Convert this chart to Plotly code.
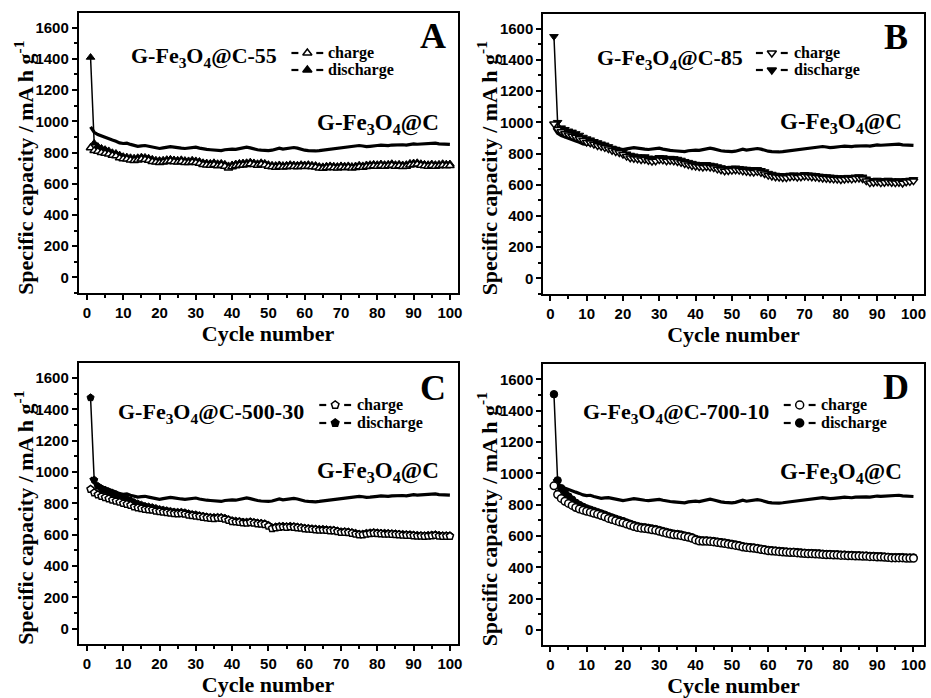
import plotly.graph_objects as go

cycles = list(range(1, 101))

ref_gfe3o4c = [965, 930, 915, 905, 898, 890, 880, 872, 862, 858,
               860, 852, 845, 840, 843, 845, 840, 835, 828, 826,
               830, 834, 838, 835, 830, 828, 826, 830, 835, 834,
               828, 822, 820, 818, 815, 810, 812, 818, 822, 822,
               820, 825, 830, 835, 830, 822, 818, 815, 812, 812,
               815, 820, 828, 822, 825, 830, 832, 828, 820, 815,
               812, 810, 810, 812, 815, 818, 822, 826, 825, 828,
               832, 835, 838, 840, 845, 842, 838, 840, 845, 845,
               848, 846, 844, 848, 850, 852, 850, 848, 852, 855,
               853, 855, 857, 858, 858, 860, 856, 853, 852, 852]

a_charge = [830, 812, 808, 800, 795, 790, 782, 778, 765, 760,
            758, 752, 748, 752, 758, 755, 750, 742, 738, 735,
            738, 742, 745, 740, 738, 742, 736, 735, 738, 735,
            730, 722, 720, 718, 722, 715, 718, 712, 700, 708,
            715, 718, 720, 722, 728, 722, 718, 724, 720, 712,
            708, 705, 710, 706, 708, 712, 710, 708, 712, 710,
            712, 708, 706, 700, 698, 702, 705, 702, 700, 705,
            702, 705, 700, 703, 708, 705, 710, 712, 715, 712,
            716, 712, 715, 718, 712, 715, 710, 712, 720, 722,
            725, 718, 715, 712, 716, 712, 714, 718, 715, 716]
a_discharge = [1410, 860, 840, 828, 820, 812, 800, 795, 785, 775,
               772, 768, 765, 768, 772, 770, 765, 758, 752, 750,
               752, 756, 758, 754, 752, 755, 750, 748, 752, 748,
               744, 736, 734, 732, 736, 730, 732, 726, 716, 722,
               728, 732, 734, 736, 740, 735, 730, 736, 732, 724,
               720, 718, 722, 718, 720, 724, 722, 720, 724, 722,
               724, 720, 718, 712, 710, 714, 716, 714, 712, 716,
               714, 716, 712, 715, 720, 716, 722, 724, 726, 724,
               728, 724, 726, 730, 724, 726, 722, 724, 732, 734,
               736, 730, 726, 724, 728, 724, 726, 730, 727, 728]

b_charge = [990, 955, 940, 928, 920, 912, 905, 895, 885, 872,
            868, 860, 850, 845, 838, 830, 820, 812, 805, 795,
            782, 772, 768, 765, 760, 762, 755, 750, 752, 760,
            758, 752, 755, 752, 748, 742, 735, 728, 722, 718,
            715, 712, 715, 712, 708, 700, 695, 688, 690, 692,
            695, 692, 688, 685, 682, 680, 684, 678, 670, 660,
            655, 650, 648, 645, 645, 650, 652, 648, 650, 655,
            652, 650, 648, 645, 642, 640, 638, 636, 635, 632,
            635, 638, 636, 640, 642, 638, 625, 612, 615, 618,
            612, 615, 618, 614, 612, 615, 610, 618, 620, 625]
b_discharge = [1550, 1000, 965, 955, 945, 938, 928, 918, 905, 895,
               888, 878, 870, 862, 855, 845, 835, 828, 818, 810,
               798, 790, 785, 780, 778, 780, 772, 768, 770, 775,
               774, 768, 770, 768, 764, 758, 750, 744, 738, 732,
               730, 728, 730, 726, 722, 716, 710, 704, 705, 706,
               708, 705, 702, 700, 698, 696, 698, 692, 684, 674,
               668, 662, 660, 658, 658, 662, 664, 660, 662, 666,
               664, 662, 660, 656, 654, 652, 650, 648, 646, 644,
               646, 648, 646, 650, 652, 650, 638, 626, 628, 630,
               625, 628, 630, 626, 624, 627, 622, 628, 630, 634]

c_charge = [890, 868, 855, 845, 838, 830, 822, 815, 808, 800,
            795, 788, 778, 772, 768, 762, 760, 758, 752, 748,
            745, 742, 738, 735, 734, 735, 732, 726, 722, 720,
            716, 712, 708, 705, 704, 706, 705, 700, 692, 685,
            682, 680, 676, 675, 678, 674, 670, 668, 665, 655,
            640, 645, 648, 650, 648, 650, 648, 645, 642, 638,
            636, 634, 632, 630, 630, 628, 626, 625, 620, 615,
            616, 614, 610, 605, 600, 600, 605, 608, 610, 608,
            606, 605, 604, 603, 602, 600, 598, 597, 596, 594,
            592, 591, 590, 592, 594, 596, 592, 590, 590, 590]
c_discharge = [1475, 950, 910, 895, 885, 875, 866, 856, 846, 836,
               828, 818, 806, 798, 790, 782, 778, 774, 768, 762,
               758, 754, 750, 746, 744, 744, 741, 735, 730, 728,
               723, 719, 715, 712, 711, 712, 711, 706, 698, 691,
               688, 686, 682, 681, 684, 680, 676, 674, 671, 661,
               646, 651, 654, 655, 653, 655, 653, 650, 647, 643,
               641, 639, 637, 635, 635, 633, 631, 630, 625, 620,
               621, 619, 615, 610, 605, 605, 610, 613, 615, 613,
               611, 610, 609, 608, 607, 605, 603, 602, 601, 599,
               597, 596, 595, 597, 599, 601, 597, 595, 595, 595]

d_charge = [920, 865, 840, 822, 808, 795, 782, 772, 765, 758,
            752, 745, 738, 730, 722, 712, 705, 698, 690, 684,
            676, 668, 660, 654, 650, 648, 644, 640, 636, 630,
            624, 618, 612, 608, 606, 602, 596, 592, 585, 575,
            568, 566, 566, 564, 562, 558, 555, 552, 548, 544,
            540, 536, 530, 526, 524, 522, 518, 514, 510, 506,
            504, 502, 500, 498, 496, 494, 494, 492, 490, 488,
            486, 486, 485, 484, 482, 480, 480, 478, 478, 476,
            476, 474, 474, 472, 472, 470, 470, 468, 468, 466,
            466, 464, 462, 460, 460, 460, 460, 458, 458, 458]
d_discharge = [1505, 955, 905, 875, 852, 832, 812, 798, 786, 776,
               768, 760, 752, 744, 736, 726, 718, 710, 702, 695,
               686, 678, 670, 663, 658, 656, 652, 648, 644, 638,
               632, 626, 620, 615, 613, 609, 603, 599, 592, 582,
               575, 572, 572, 570, 568, 564, 561, 558, 554, 550,
               546, 541, 535, 531, 529, 527, 523, 519, 515, 511,
               509, 507, 505, 503, 501, 499, 499, 497, 495, 493,
               491, 491, 490, 489, 487, 485, 485, 483, 483, 481,
               481, 479, 479, 477, 477, 475, 475, 473, 473, 471,
               471, 469, 467, 465, 465, 465, 465, 463, 463, 463]

panel_letters = ["A", "B", "C", "D"]
sample_names = ["G-Fe<sub>3</sub>O<sub>4</sub>@C-55", "G-Fe<sub>3</sub>O<sub>4</sub>@C-85",
                "G-Fe<sub>3</sub>O<sub>4</sub>@C-500-30", "G-Fe<sub>3</sub>O<sub>4</sub>@C-700-10"]
ref_name = "G-Fe<sub>3</sub>O<sub>4</sub>@C"
series_names = ["charge", "discharge"]
y_title = "Specific capacity / mA h g<sup>-1</sup>"
x_title = "Cycle number"
symbols = ["triangle-up", "triangle-down", "pentagon", "circle"]
charges = [a_charge, b_charge, c_charge, d_charge]
discharges = [a_discharge, b_discharge, c_discharge, d_discharge]
x_ticks = list(range(0, 101, 10))
y_ticks = list(range(0, 1601, 200))

W, H = 931, 698
SERIF = "Liberation Serif"
SANS = "Liberation Sans"

# panel pixel boxes: (left, right, top, bottom) and axis ranges
boxes = [(79, 460, 13, 293), (546, 929, 14, 294), (79, 460, 363, 644), (546, 929, 364, 645)]
x_ranges = [[-2.3, 102.1], [-2.0, 102.9], [-2.3, 102.1], [-2.0, 102.9]]
y_ranges = [[-100, 1694], [-100, 1694], [-98, 1696], [-96, 1698]]
# legend: (sample centre x, row1 y, row2 y, text x)
legend_pos = [(309, 53, 70, 328), (776, 53, 70, 796), (337, 405, 423, 357), (804, 405, 423, 823)]
sample_pos = [(130, 57), (598, 59), (117, 413), (584, 413)]
ref_pos = [(443, 124), (909, 123), (443, 472), (909, 473)]
letter_pos = [(435, 36), (901, 37), (435, 388), (901, 387)]
ytitle_pos = [(24, 168), (490, 168), (24, 518), (490, 519)]

fig = go.Figure()
annotations = []
layout = {}

for i in range(4):
    ax = "" if i == 0 else str(i + 1)
    xa, ya = "x" + ax, "y" + ax
    fig.add_trace(go.Scatter(x=cycles, y=ref_gfe3o4c, mode="lines", xaxis=xa, yaxis=ya,
                             line=dict(color="black", width=3.2), showlegend=False))
    fig.add_trace(go.Scatter(x=cycles, y=discharges[i], mode="lines+markers", name="discharge",
                             xaxis=xa, yaxis=ya, showlegend=False,
                             line=dict(color="black", width=1.5),
                             marker=dict(symbol=symbols[i], size=7.5, color="black",
                                         line=dict(color="black", width=1))))
    fig.add_trace(go.Scatter(x=cycles, y=charges[i], mode="lines+markers", name="charge",
                             xaxis=xa, yaxis=ya, showlegend=False,
                             line=dict(color="black", width=1.5),
                             marker=dict(symbol=symbols[i], size=7.5, color="white",
                                         line=dict(color="black", width=1.5))))
    l, r, t, b = boxes[i]
    common = dict(showline=True, linecolor="black", linewidth=1.5, mirror=True,
                  ticks="outside", ticklen=5, tickwidth=1.5, tickcolor="black",
                  showgrid=False, zeroline=False,
                  tickfont=dict(family=SANS, size=15, color="black", weight="bold"))
    layout["xaxis" + ax] = dict(common, domain=[l / W, r / W], anchor=ya, range=x_ranges[i],
                                tickvals=x_ticks,
                                minor=dict(ticks="outside", ticklen=3, tickwidth=1.5, tickcolor="black", dtick=5, tick0=0),
                                title=dict(text=x_title, standoff=4,
                                           font=dict(family=SERIF, size=22, color="black", weight="bold")))
    layout["yaxis" + ax] = dict(common, domain=[1 - b / H, 1 - t / H], anchor=xa, range=y_ranges[i],
                                tickvals=y_ticks,
                                minor=dict(ticks="outside", ticklen=3, tickwidth=1.5, tickcolor="black", dtick=100, tick0=0))
    tx_, ty_ = ytitle_pos[i]
    annotations.append(dict(text=y_title, x=tx_ / W, y=1 - ty_ / H, xref="paper", yref="paper",
                            xanchor="center", yanchor="middle", textangle=-90, showarrow=False,
                            font=dict(family=SERIF, size=22, color="black", weight="bold")))
    # legend samples (drawn on an invisible pixel-space overlay axis)
    cx, r1, r2, tx = legend_pos[i]
    for k, (ry, fill) in enumerate([(r1, "white"), (r2, "black")]):
        fig.add_trace(go.Scatter(x=[cx - 16, cx - 9, None, cx + 9, cx + 16], y=[ry] * 5,
                                 mode="lines", xaxis="x5", yaxis="y5", showlegend=False,
                                 line=dict(color="black", width=2.2), hoverinfo="skip"))
        fig.add_trace(go.Scatter(x=[cx], y=[ry], mode="markers", xaxis="x5", yaxis="y5",
                                 showlegend=False, hoverinfo="skip",
                                 marker=dict(symbol=symbols[i], size=8, color=fill,
                                             line=dict(color="black", width=1.5))))
        annotations.append(dict(text=series_names[k], x=tx / W, y=1 - ry / H, xref="paper", yref="paper",
                                xanchor="left", yanchor="middle", showarrow=False,
                                font=dict(family=SERIF, size=16, color="black", weight="bold")))
    sx, sy = sample_pos[i]
    annotations.append(dict(text=sample_names[i], x=sx / W, y=1 - sy / H, xref="paper", yref="paper",
                            xanchor="left", yanchor="middle", showarrow=False,
                            font=dict(family=SERIF, size=22, color="black", weight="bold")))
    rx, ry = ref_pos[i]
    annotations.append(dict(text=ref_name, x=rx / W, y=1 - ry / H, xref="paper", yref="paper",
                            xanchor="right", yanchor="middle", showarrow=False,
                            font=dict(family=SERIF, size=23, color="black", weight="bold")))
    px, py = letter_pos[i]
    annotations.append(dict(text=panel_letters[i], x=px / W, y=1 - py / H, xref="paper", yref="paper",
                            xanchor="center", yanchor="middle", showarrow=False,
                            font=dict(family=SERIF, size=36, color="black", weight="bold")))

layout["xaxis5"] = dict(domain=[0, 1], range=[0, W], visible=False, fixedrange=True, anchor="y5")
layout["yaxis5"] = dict(domain=[0, 1], range=[H, 0], visible=False, fixedrange=True, anchor="x5")

fig.update_layout(width=W, height=H, margin=dict(l=0, r=0, t=0, b=0),
                  paper_bgcolor="white", plot_bgcolor="rgba(0,0,0,0)", showlegend=False,
                  annotations=annotations, **layout)
fig.write_html("out.html", config={"displayModeBar": False},
               post_script="document.body.style.margin='0px';")
